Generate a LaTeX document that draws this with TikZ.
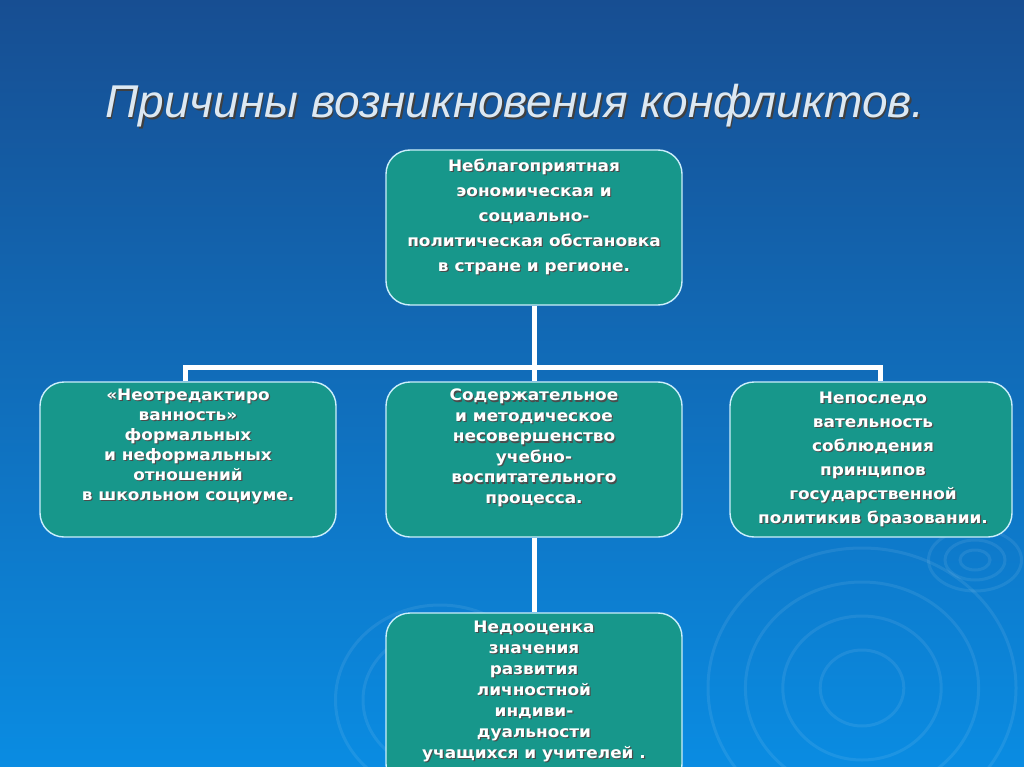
\documentclass[tikz,border=0pt]{standalone}
\usepackage{fontspec}
\setmainfont[FakeStretch=1.07]{DejaVu Sans}
\newfontfamily\titlefont{Liberation Sans}
\usetikzlibrary{positioning}
\definecolor{bgtop}{HTML}{174E92}
\definecolor{bgmid}{HTML}{0B6AB6}
\definecolor{bgbot}{HTML}{0A8CE2}
\definecolor{boxteal}{HTML}{17978B}
\definecolor{titlegray}{HTML}{DCE8F2}
\tikzset{
	cause/.style = {
			rectangle,
			rounded corners = 24pt,
			draw            = white!80!cyan,
			line width      = 1.4pt,
			fill            = boxteal,
			minimum width   = 296pt,
			minimum height  = 155pt,
		},
	causetext/.style = {
			anchor     = north,
			align      = center,
			text       = white,
			inner sep  = 0pt,
			font       = \fontsize{15.8}{#1}\selectfont\bfseries,
		},
	causetext/.default = 22,
	link/.style   = {draw=white, line width=5pt},
	ripple/.style = {draw=white, opacity=0.08, line width=3pt},
}
% text with a dark shadow: name, anchor point, line skip, text
\newcommand{\causetxt}[4]{%
	\node[causetext=#3, text=black!70, xshift=1.2pt, yshift=-1.2pt] at (#2) {#4};
	\node[causetext=#3] (#1) at (#2) {#4};
}

\begin{document}
\begin{tikzpicture}[x=1pt,y=-1pt]
	% Background
	\clip (0,0) rectangle (1024,767);
	\shade[top color=bgtop, middle color=bgmid, bottom color=bgbot] (0,0) rectangle (1024,767);

	% Ripples
	\foreach \r in {38,72,106,140}
		{ \draw[ripple] (862,688) ellipse ({\r*1.1} and \r); }
	\foreach \r in {10,20,31}
		{ \draw[ripple] (975,560) ellipse ({\r*1.5} and \r); }
	\foreach \r in {70,95}
		{ \draw[ripple] (440,700) ellipse ({\r*1.1} and \r); }

	% Title
	\node[anchor=base west, text=titlegray, font=\titlefont\itshape\fontsize{46}{52}\selectfont, inner sep=0pt]
		(title) at (105,118)
		{\rlap{\kern1.6pt\raisebox{-1.6pt}{\color{black!75}Причины возникновения конфликтов.}}Причины возникновения конфликтов.};

	% Boxes
	\node[cause] (economy) at (534,227.5) {};
	\node[cause] (relations) at (188,459.5) {};
	\node[cause] (teaching) at (534,459.5) {};
	\node[cause, minimum width=282pt] (policy) at (871,459.5) {};
	\node[cause, minimum height=175pt] (person) at (534,700.5) {};

	% Connectors
	\draw[link] (economy.south) -- (534,367) coordinate (fork);
	\draw[link] ([xshift=-3pt]relations.north) |- (fork) -| ([xshift=9pt]policy.north);
	\draw[link] (fork) -- (teaching.north);
	\draw[link] (teaching.south) -- (person.north);

	% Texts
	\causetxt{economytxt}{534,159}{25}{Неблагоприятная\\ эономическая и\\ социально-\\ политическая обстановка\\ в стране и регионе.}
	\causetxt{relationstxt}{188,389}{20}{«Неотредактиро\\ ванность»\\ формальных\\ и неформальных\\ отношений\\ в школьном социуме.}
	\causetxt{teachingtxt}{534,389}{20.5}{Содержательное\\ и методическое\\ несовершенство\\ учебно-\\ воспитательного\\ процесса.}
	\causetxt{policytxt}{873,392}{24}{Непоследо\\ вательность\\ соблюдения\\ принципов\\ государственной\\ политикив бразовании.}
	\causetxt{persontxt}{534,621}{21}{Недооценка\\ значения\\ развития\\ личностной\\ индиви-\\ дуальности\\ учащихся и учителей .}
\end{tikzpicture}
\end{document}
